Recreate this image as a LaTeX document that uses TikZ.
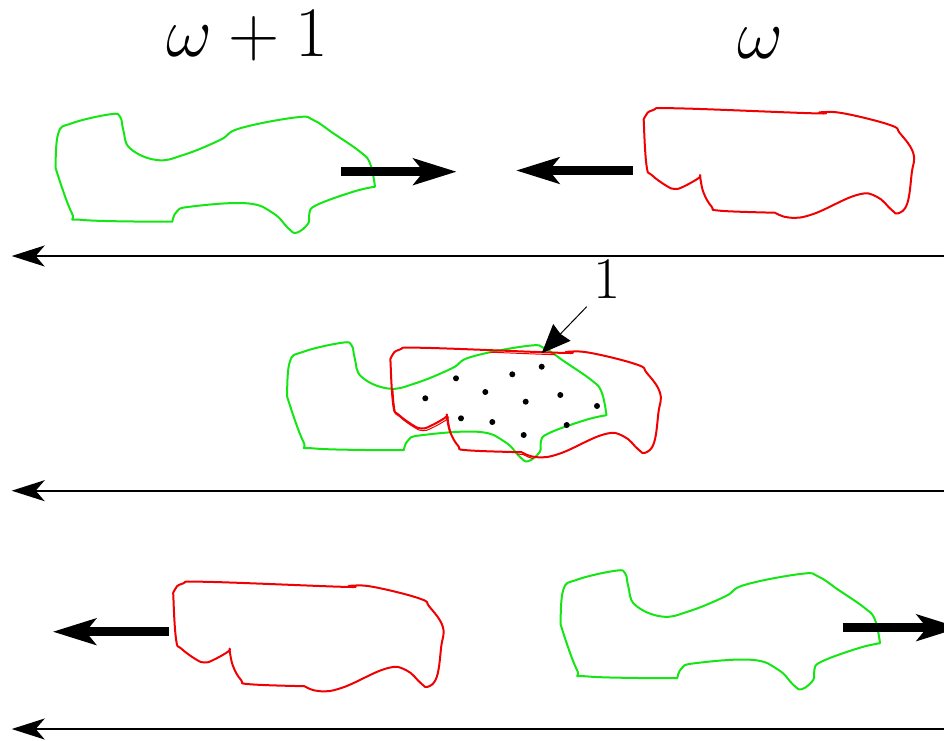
\RequirePackage{fix-cm}
\documentclass[tikz,border=0pt]{standalone}
\usetikzlibrary{arrows.meta}
\definecolor{gr}{RGB}{20,230,20}
\definecolor{rd}{RGB}{240,0,0}
\newcommand\gpath{plot[smooth,tension=0.7] coordinates {(55.7,168.3) (58.3,133.3) (71.7,123.3) (110,114.3) (120,116.7) (123.3,130) (130,148.3) (156.7,160) (183.3,155) (220,140) (240,128.3) (296.7,117.3) (313.3,120) (333.3,133.3) (360,151.7) (370,163.3) (375,186.7)} -- plot[smooth,tension=0.7] coordinates {(375,186.7) (353.3,191.7) (316.7,205) (309.3,213.3) (308.3,223.3) (296.7,232.7) (288.3,228.3) (273.3,213.3) (246.7,203.3) (190,206.7) (176.7,211.7) (172.3,221.7)} -- plot[smooth,tension=0.7] coordinates {(172.3,221.7) (83.3,220) (71.7,212.7) (55.7,168.3)} -- cycle}
\newcommand\rpath{plot[smooth,tension=0.7] coordinates {(700,175) (703.3,192) (711.7,206.7) (720,210.7) (775,212.7)} -- plot[smooth,tension=0.7] coordinates {(775,212.7) (790,217.7) (813.3,214) (856.7,195) (876.7,196.7) (891.7,210) (898.3,213.3) (907.3,203.3) (911.7,173.3) (913.3,153.3) (900,133.3) (890,125) (843.3,113.3) (820,112.3) (813.3,113.3) (676.7,108.3) (653.3,110) (645,116.7) (644,126.7) (646.7,166.7) (651.7,175) (666.7,186) (675,189) (683.3,186.7) (698.3,178.3) (700,175)} -- cycle}
\tikzset{
  gshape/.style={draw=gr, line width=2pt, line join=round},
  rshape/.style={draw=rd, line width=2pt, line join=round},
  blk/.style={line width=9pt, -{Stealth[length=43pt,width=26pt,inset=10pt]}},
  axisline/.style={line width=1.8pt, {Stealth[length=33pt,width=21pt,inset=9pt]}-},
  lbl/.style={inner sep=0pt, anchor=base}
}
\begin{document}
\begin{tikzpicture}[x=1pt,y=-1pt]
\useasboundingbox (0,0) rectangle (944,740);
\clip (0,0) rectangle (944,740);
% labels
\node[lbl, font=\fontsize{71}{80}\selectfont] (t1) at (247.4,56) {$\omega+1$};
\node[lbl, font=\fontsize{71}{80}\selectfont] (t2) at (760,58) {$\omega$};
% top row
\draw[gshape] \gpath;
\draw[rshape] \rpath;
\coordinate (ga1) at (341,171.7); \coordinate (ga2) at (456.7,171.7);
\coordinate (ra1) at (632.7,170.5); \coordinate (ra2) at (516,170.5);
\draw[blk] (ga1) -- (ga2);
\draw[blk] (ra1) -- (ra2);
% axes
\coordinate (l1a) at (944,256); \coordinate (l1b) at (11.7,256);
\coordinate (l2a) at (944,490.7); \coordinate (l2b) at (11.7,490.7);
\coordinate (l3a) at (944,729); \coordinate (l3b) at (11.7,729);
\draw[axisline] (l1b) -- (l1a);
\draw[axisline] (l2b) -- (l2a);
\draw[axisline] (l3b) -- (l3a);
% middle row
\draw[gshape, shift={(231.5,228.5)}] \gpath;
\draw[rshape, shift={(-253.3,239.5)}] \rpath;
\begin{scope}
\clip[shift={(231.5,228.5)}] \gpath;
\draw[draw=rd, line width=1pt, shift={(-252.1,241.6)}] \rpath;
\end{scope}
\foreach \p in {(541.7,366.7),(512.3,374.3),(456,378.3),(485.3,392),(560.3,395),(525.7,401.7),(425.3,398.3),(597,406),(461,418.3),(492.3,422),(566.7,425),(523.7,435)}
  \fill \p circle (3pt);
\node[lbl, font=\fontsize{59}{68}\selectfont] (one) at (606.7,298) {$1$};
\coordinate (pa) at (586.7,306.7); \coordinate (pb) at (541.7,353.3);
\draw[line width=1pt, -{Stealth[length=29pt,width=24pt,inset=2pt]}] (pa) -- (pb);
% bottom row
\draw[rshape, shift={(-470.5,473.5)}] \rpath;
\draw[gshape, shift={(505,456.5)}] \gpath;
\coordinate (ba1) at (169,631.7); \coordinate (ba2) at (52.7,631.7);
\coordinate (bg1) at (842.7,627.7); \coordinate (bg2) at (960,627.7);
\draw[blk] (ba1) -- (ba2);
\draw[blk] (bg1) -- (bg2);
\end{tikzpicture}
\end{document}
